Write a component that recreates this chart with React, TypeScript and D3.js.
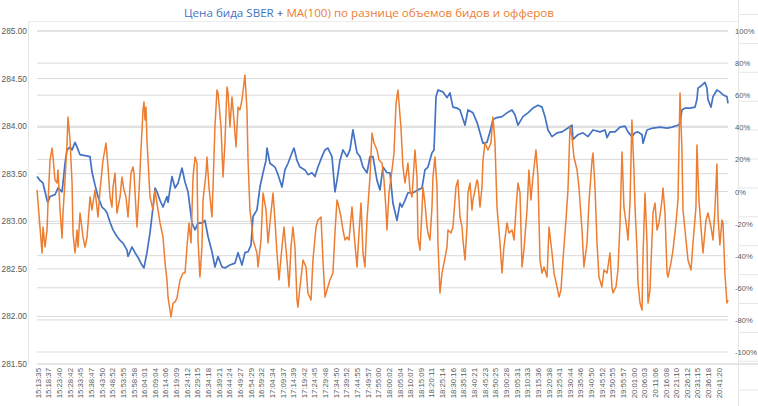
import React from "react";
import * as d3 from "d3";

// ---- data ----
const timeLabels = [
  "15:13:35","15:18:37","15:23:40","15:28:42","15:33:45","15:38:47","15:43:50","15:48:52","15:53:55","15:58:58",
  "16:04:01","16:09:04","16:14:06","16:19:09","16:24:12","16:29:15","16:34:18","16:39:21","16:44:24","16:49:27",
  "16:54:29","16:59:32","17:04:34","17:09:37","17:14:39","17:19:42","17:24:45","17:29:48","17:34:50","17:39:52",
  "17:44:55","17:49:57","17:55:00","18:00:02","18:05:04","18:10:07","18:15:09","18:20:11","18:25:14","18:30:16",
  "18:35:18","18:40:21","18:45:23","18:50:25","19:00:28","19:05:31","19:10:33","19:15:36","19:20:38","19:25:41",
  "19:30:44","19:35:46","19:40:50","19:45:52","19:50:55","19:55:57","20:01:00","20:06:03","20:11:06","20:16:08",
  "20:21:10","20:26:12","20:31:15","20:36:18","20:41:20"
];

// positions are in units of x-axis label intervals (label k sits at position k)
const bluePos = [
  -0.09,0.19,0.47,0.66,0.85,0.94,1.13,1.60,1.88,2.26,
  2.54,2.73,3.01,3.20,3.48,3.67,3.95,4.42,4.89,5.07,
  5.36,5.64,6.01,6.30,6.48,6.77,7.05,7.42,7.71,7.99,
  8.36,8.46,8.83,9.12,9.40,9.77,9.96,10.24,10.53,10.81,
  11.00,11.18,11.47,11.75,12.12,12.22,12.59,12.88,13.16,13.53,
  13.82,14.10,14.47,14.76,15.04,15.41,15.69,15.98,16.35,16.63,
  16.92,17.29,17.57,18.04,18.51,18.80,19.17,19.45,19.74,20.02,
  20.21,20.58,20.86,21.15,21.43,21.52,21.80,22.27,22.56,22.93,
  23.21,23.50,23.87,24.06,24.34,24.62,25.09,25.37,25.75,26.03,
  26.31,26.69,26.97,27.25,27.63,27.91,28.10,28.38,28.66,29.04,
  29.32,29.60,29.98,30.26,30.54,30.92,31.20,31.48,31.86,32.14,
  32.42,32.80,33.08,33.36,33.74,34.02,34.21,34.49,34.77,35.24,
  35.71,36.09,36.37,36.65,37.03,37.22,37.41,37.59,38.06,38.44,
  38.72,39.00,39.38,39.66,40.13,40.41,40.88,41.26,41.54,41.82,
  42.20,42.48,42.76,43.14,43.61,44.08,44.55,44.83,45.11,45.58,
  46.05,46.52,46.99,47.37,47.65,47.93,48.31,48.78,49.25,49.81,
  50.19,50.28,50.75,51.22,51.69,52.16,52.82,53.29,53.48,53.76,
  54.23,54.70,55.17,55.45,55.82,56.11,56.39,56.77,56.86,57.23,
  57.80,58.46,59.12,59.59,60.15,60.34,60.52,60.81,61.28,61.75,
  61.93,62.03,62.40,62.68,62.87,62.97,63.25,63.44,63.81,64.09,
  64.37,64.75,64.85
];
const bluePrice = [
  283.47,283.43,283.40,283.31,283.22,283.20,283.26,283.28,283.35,283.31,
  283.61,283.75,283.78,283.75,283.83,283.78,283.70,283.69,283.68,283.52,
  283.38,283.26,283.15,283.12,283.09,282.99,282.91,282.84,282.80,282.77,
  282.70,282.63,282.73,282.67,282.62,282.54,282.51,282.67,282.88,283.15,
  283.35,283.31,283.22,283.15,283.26,283.20,283.47,283.35,283.40,283.56,
  283.41,283.31,282.98,282.91,282.98,282.98,283.01,282.84,282.68,282.52,
  282.63,282.52,282.51,282.54,282.56,282.67,282.54,282.67,282.68,282.75,
  283.05,283.12,283.36,283.51,283.64,283.77,283.61,283.57,283.49,283.36,
  283.54,283.61,283.72,283.77,283.64,283.57,283.54,283.49,283.51,283.47,
  283.57,283.68,283.75,283.77,283.68,283.31,283.43,283.64,283.75,283.68,
  283.75,283.96,283.72,283.68,283.57,283.51,283.68,283.68,283.43,283.33,
  283.57,283.51,283.51,283.19,283.01,283.19,283.15,283.22,283.30,283.30,
  283.33,283.35,283.54,283.57,283.72,283.75,284.31,284.38,284.36,284.30,
  284.35,284.20,284.19,284.17,284.01,284.17,284.14,284.04,283.93,283.82,
  283.83,283.94,284.07,284.09,284.10,284.14,284.17,284.12,284.01,284.10,
  284.14,284.19,284.22,284.20,284.10,283.96,283.89,283.93,283.94,283.98,
  284.01,283.86,283.91,283.93,283.89,283.96,283.94,283.96,283.88,283.94,
  283.94,283.99,284.00,283.94,283.89,283.93,283.94,283.91,283.82,283.96,
  283.98,283.99,283.98,283.99,284.01,284.03,284.17,284.19,284.19,284.20,
  284.28,284.40,284.43,284.46,284.40,284.28,284.20,284.31,284.38,284.36,
  284.33,284.31,284.24
];

const orangePos = [
  -0.09,0.38,0.47,0.66,0.85,0.94,1.13,1.32,1.41,1.60,
  1.79,1.88,2.07,2.26,2.35,2.54,2.73,2.82,3.01,3.20,
  3.29,3.48,3.67,3.76,3.95,4.23,4.42,4.61,4.89,5.07,
  5.36,5.64,5.83,6.11,6.39,6.58,6.77,6.95,7.05,7.24,
  7.42,7.71,7.89,8.08,8.27,8.46,8.74,8.93,9.02,9.21,
  9.30,9.49,9.68,9.87,9.96,10.06,10.15,10.24,10.34,10.53,
  10.81,11.00,11.18,11.47,11.75,11.94,12.12,12.22,12.50,12.69,
  12.88,13.06,13.35,13.63,13.82,14.00,14.19,14.38,14.57,14.76,
  14.94,15.04,15.22,15.41,15.51,15.79,15.88,16.07,16.35,16.45,
  16.63,16.82,16.92,17.20,17.39,17.57,17.76,17.86,18.04,18.23,
  18.42,18.61,18.80,18.98,19.17,19.45,19.64,19.74,19.92,20.11,
  20.21,20.58,20.68,20.96,21.15,21.43,21.62,21.80,22.09,22.27,
  22.46,22.65,22.93,23.12,23.40,23.59,23.78,23.96,24.15,24.34,
  24.43,24.62,24.91,25.19,25.37,25.66,25.84,26.13,26.31,26.60,
  26.78,26.97,27.16,27.44,27.72,27.91,28.10,28.19,28.48,28.66,
  28.85,29.04,29.23,29.51,29.70,29.98,30.17,30.36,30.54,30.73,
  30.92,31.20,31.39,31.58,31.86,32.05,32.33,32.52,32.71,32.80,
  32.99,33.27,33.46,33.65,33.83,34.11,34.30,34.49,34.77,34.96,
  35.15,35.43,35.62,35.71,35.90,36.09,36.18,36.37,36.56,36.65,
  36.84,37.03,37.12,37.31,37.50,37.59,37.78,37.97,38.16,38.44,
  38.53,38.81,39.00,39.28,39.47,39.66,39.85,39.94,40.13,40.32,
  40.41,40.60,40.79,40.88,41.07,41.26,41.35,41.54,41.73,41.82,
  42.01,42.29,42.57,42.76,42.95,43.14,43.42,43.61,43.79,44.08,
  44.27,44.55,44.74,44.92,45.11,45.30,45.49,45.67,45.96,46.14,
  46.33,46.52,46.80,46.99,47.18,47.37,47.56,47.84,48.03,48.31,
  48.50,48.78,48.97,49.15,49.34,49.62,49.81,50.00,50.19,50.37,
  50.66,50.84,51.13,51.31,51.60,51.78,52.07,52.16,52.35,52.54,
  52.72,53.00,53.19,53.48,53.76,53.94,54.04,54.32,54.51,54.70,
  54.89,55.07,55.36,55.45,55.64,55.82,56.01,56.11,56.30,56.39,
  56.58,56.77,56.86,57.05,57.23,57.33,57.52,57.80,57.99,58.18,
  58.36,58.65,58.74,58.93,59.12,59.21,59.49,59.68,59.96,60.15,
  60.34,60.52,60.62,60.90,61.09,61.37,61.56,61.84,61.93,62.12,
  62.40,62.50,62.78,62.97,63.25,63.44,63.62,63.81,63.91,64.09,
  64.28,64.38,64.56,64.75,64.85
];
const orangePct = [
  0.9,-38.3,-22.1,-34.6,-24.0,-7.2,19.6,27.1,21.5,7.2,
  5.3,13.4,-11.5,-29.0,-13.4,7.2,30.2,46.4,32.1,5.3,
  -25.9,-38.3,-24.0,-34.6,-13.4,-28.4,-34.6,-28.4,-3.4,-11.5,
  0.9,-15.9,0.9,19.6,30.2,15.3,-3.4,-9.7,2.8,11.5,
  -13.4,-3.4,9.0,0.9,-3.4,-15.9,11.5,15.3,11.5,-11.5,
  -22.1,-0.9,25.9,50.8,55.8,44.5,52.6,32.1,19.6,-3.4,
  -11.5,0.9,-7.2,-19.6,-28.4,-44.5,-55.1,-65.7,-78.2,-69.5,
  -68.8,-66.4,-55.1,-50.8,-50.8,-34.6,-19.6,-32.1,9.0,21.5,
  17.7,-30.2,-53.3,-34.6,-5.3,11.5,21.5,2.8,-15.9,2.8,
  40.2,63.2,61.4,40.2,9.0,30.2,65.1,61.4,40.2,58.9,
  44.5,27.7,52.6,50.8,57.0,72.6,50.8,19.6,-11.5,-22.1,
  -30.2,-38.3,-47.0,-30.2,-0.9,-11.5,-32.1,-19.6,-0.9,-17.8,
  -38.3,-55.1,-34.6,-22.1,-42.7,-59.5,-34.6,-22.1,-34.6,-67.6,
  -72.0,-59.5,-42.7,-47.0,-63.2,-67.6,-42.7,-22.1,-17.8,-15.9,
  -42.7,-65.7,-61.4,-55.1,-50.8,-25.9,-5.3,-7.2,-15.9,-24.0,
  -30.2,-28.4,-30.2,-9.7,-25.9,-47.0,-25.9,-7.2,-38.3,-47.0,
  -17.8,9.0,36.4,30.2,25.9,19.6,17.7,7.2,-11.5,-24.0,
  -0.9,13.4,24.0,55.1,63.2,40.2,15.3,5.3,17.7,0.9,
  -3.4,25.9,9.0,-28.4,-36.5,-11.5,2.8,-7.2,-22.1,-25.9,
  -30.2,-9.7,9.0,21.5,2.8,-32.1,-63.2,-50.8,-44.5,-34.6,
  -24.0,-25.9,-22.1,2.8,7.2,-15.9,-22.1,-30.2,-42.7,-22.1,
  -0.9,5.3,-11.5,-5.3,0.9,7.2,5.3,-9.7,2.8,19.6,
  30.2,25.9,30.2,46.4,30.2,-9.7,-32.1,-50.8,-34.6,-19.6,
  -25.9,-24.0,-30.2,-11.5,5.3,-0.9,-47.0,-36.5,-11.5,13.4,
  -5.3,9.0,25.9,9.0,-42.7,-50.8,-47.0,-53.3,-22.1,-38.3,
  -50.8,-59.5,-65.7,-61.4,-42.7,-17.8,0.9,40.2,33.9,21.5,
  13.4,2.8,-24.0,-47.0,-32.1,-7.2,19.6,24.0,2.8,-32.1,
  -53.3,-59.5,-48.9,-50.8,-38.3,-59.5,-63.2,-59.5,-48.9,-19.6,
  24.6,-9.7,-24.0,-30.2,-7.2,44.5,13.4,-9.7,-36.5,-57.0,
  -69.5,-73.8,-40.8,-0.9,-30.2,-69.5,-61.4,-13.4,-7.2,-24.0,
  -19.6,-5.3,2.2,-13.4,-50.8,-53.3,-44.5,-36.5,-19.6,-5.3,
  61.4,25.9,-11.5,-30.2,-42.7,-48.9,-32.1,-9.7,29.0,-5.3,
  -30.2,-38.3,-17.8,-13.4,-22.1,-30.2,-11.5,17.1,-15.9,-33.3,
  -17.8,-19.6,-50.8,-69.5,-67.6
];

const leftTicks = [281.5, 282, 282.5, 283, 283.5, 284, 284.5, 285];
const rightTicks = [-100, -80, -60, -40, -20, 0, 20, 40, 60, 80, 100];
const titleBlue = "Цена бида SBER";
const titlePlus = " + ";
const titleOrange = "MA(100) по разнице объемов бидов и офферов";

const BLUE = "#4472C4";
const ORANGE = "#ED7D31";
const GRID = "#d9d9d9";
const LABEL = "#595959";
const FONT = "'Liberation Sans', Arial, sans-serif";

export default function App() {
  const W = 758;
  const H = 406;
  const plotL = 37, plotR = 728, plotT = 31, plotB = 364;

  const x = d3.scaleLinear().domain([-0.094, 64.85]).range([plotL, plotR]);
  const yL = d3.scaleLinear().domain([281.5, 285]).range([plotB, plotT]);
  const yR = d3.scaleLinear().domain([-100, 100]).range([352, plotT]);

  const blueLine = d3.line<number>()
    .x((_, i) => x(bluePos[i]))
    .y((d) => yL(d));
  const orangeLine = d3.line<number>()
    .x((_, i) => x(orangePos[i]))
    .y((d) => yR(d));

  const fmtL = d3.format(".2f");
  const sheetRows = d3.range(0, 14).map((k) => 14.5 + k * 28.9);

  return (
    <svg
      width={W}
      height={H}
      viewBox={`0 0 ${W} ${H}`}
      style={{ position: "absolute", left: 0, top: 0, background: "#fff" }}
    >
      <rect x={0} y={0} width={W} height={H} fill="#fff" />
      {/* spreadsheet lines on the right */}
      {sheetRows.map((yy, i) => (
        <line key={"sr" + i} x1={739} x2={W} y1={yy} y2={yy} stroke="#e6e6e6" strokeWidth={1} />
      ))}
      <line x1={738.5} x2={738.5} y1={0} y2={H} stroke="#e6e6e6" strokeWidth={1} />
      {/* chart frame */}
      <line x1={28.5} x2={28.5} y1={21} y2={plotB} stroke="#e6e6e6" strokeWidth={1} />
      <line x1={28.5} x2={738.5} y1={21.5} y2={21.5} stroke="#ececec" strokeWidth={1} />

      {/* gridlines */}
      {leftTicks.filter((t) => t > 281.5).map((t) => (
        <line key={"gl" + t} x1={plotL} x2={plotR} y1={yL(t)} y2={yL(t)} stroke={GRID} strokeWidth={1} />
      ))}
      {rightTicks.map((t) => (
        <line key={"gr" + t} x1={plotL} x2={plotR} y1={yR(t)} y2={yR(t)} stroke={GRID} strokeWidth={1} />
      ))}
      {/* category axis line */}
      <line x1={plotL} x2={W} y1={plotB} y2={plotB} stroke="#dcdcdc" strokeWidth={1.6} />

      {/* series */}
      <path d={blueLine(bluePrice) || ""} fill="none" stroke={BLUE} strokeWidth={1.7} strokeLinejoin="round" />
      <path d={orangeLine(orangePct) || ""} fill="none" stroke={ORANGE} strokeWidth={1.5} strokeLinejoin="round" />

      {/* left axis labels */}
      {leftTicks.map((t) => (
        <text key={"ll" + t} x={27} y={yL(t) + 3} textAnchor="end" fontSize={8.3} fill={LABEL} fontFamily={FONT}>
          {fmtL(t)}
        </text>
      ))}
      {/* right axis labels */}
      {rightTicks.map((t) => (
        <text key={"rl" + t} x={735} y={yR(t) + 3} textAnchor="start" fontSize={7.6} fill={LABEL} fontFamily={FONT}>
          {`${t}%`}
        </text>
      ))}
      {/* x labels */}
      {timeLabels.map((lab, k) => (
        <text
          key={"xl" + k}
          transform={`translate(${x(k) + 2.8},${368}) rotate(-90)`}
          textAnchor="end"
          fontSize={7.8}
          fill={LABEL}
          fontFamily={FONT}
        >
          {lab}
        </text>
      ))}

      {/* title */}
      <text x={369} y={16.5} textAnchor="middle" fontSize={11.6} fontFamily="'Open Sans', sans-serif">
        <tspan fill={BLUE}>{titleBlue}</tspan>
        <tspan fill="#404040" xmlSpace="preserve">{titlePlus}</tspan>
        <tspan fill={ORANGE}>{titleOrange}</tspan>
      </text>
    </svg>
  );
}
